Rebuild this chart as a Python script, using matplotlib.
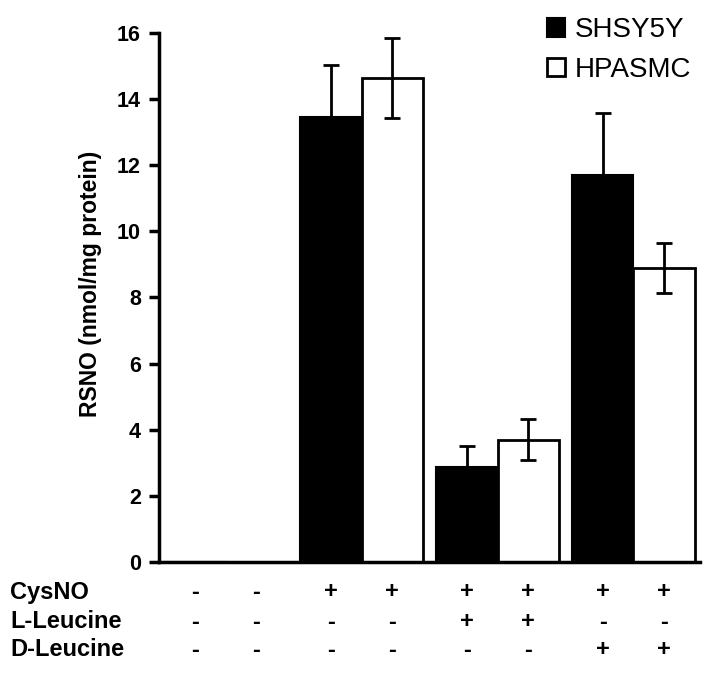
import matplotlib.pyplot as plt
import numpy as np

plt.rcParams['font.family'] = ['Liberation Sans', 'DejaVu Sans']

# Datos
series = ['SHSY5Y', 'HPASMC']
shsy5y = [0.0, 13.45, 2.88, 11.70]
shsy5y_err = [0.0, 1.57, 0.63, 1.88]
hpasmc = [0.0, 14.64, 3.70, 8.90]
hpasmc_err = [0.0, 1.22, 0.62, 0.76]

row_labels = ['CysNO', 'L-Leucine', 'D-Leucine']
signs = [
    ['-', '-', '+', '+', '+', '+', '+', '+'],
    ['-', '-', '-', '-', '+', '+', '-', '-'],
    ['-', '-', '-', '-', '-', '-', '+', '+'],
]

x = np.arange(len(shsy5y))
w = 0.45

fig = plt.figure(figsize=(7.1, 6.73), dpi=100)
ax = fig.add_axes([0.224, 0.165, 0.762, 0.786])

ax.bar(x - w / 2, shsy5y, w, color='black', edgecolor='black', linewidth=1.5,
       label=series[0])
ax.bar(x + w / 2, hpasmc, w, color='white', edgecolor='black', linewidth=2,
       label=series[1])
ax.errorbar(x[1:] - w / 2, shsy5y[1:], yerr=shsy5y_err[1:], fmt='none',
            ecolor='black', elinewidth=2, capsize=6, capthick=2)
ax.errorbar(x[1:] + w / 2, hpasmc[1:], yerr=hpasmc_err[1:], fmt='none',
            ecolor='black', elinewidth=2, capsize=6, capthick=2)

ax.set_xlim(-0.49, 3.49)
ax.set_ylim(0, 16)
ax.set_yticks(range(0, 17, 2))
ax.set_xticks([])
for s in ['top', 'right']:
    ax.spines[s].set_visible(False)
for s in ['left', 'bottom']:
    ax.spines[s].set_linewidth(2.5)
ax.tick_params(axis='y', direction='out', length=7, width=2.5, labelsize=15.5, pad=6)
for lab in ax.get_yticklabels():
    lab.set_fontweight('bold')
ax.set_ylabel('RSNO (nmol/mg protein)', fontsize=16.5, fontweight='bold')
ax.yaxis.set_label_coords(-0.105, 0.525)

leg = fig.legend(loc='upper left', bbox_to_anchor=(547 / 710, 1 - 17 / 673),
                 frameon=False, fontsize=20, handlelength=0.65, handleheight=0.65,
                 handletextpad=0.35, labelspacing=0.5, borderpad=0,
                 borderaxespad=0)

# Tabla de tratamientos debajo del eje
bar_pos = np.ravel(np.column_stack([x - w / 2, x + w / 2]))
row_y = [592, 622, 650]
for label, row, yp in zip(row_labels, signs, row_y):
    yf = 1 - yp / 673
    fig.text(10 / 710, yf, label, fontsize=17, fontweight='bold', va='center')
    for bx, s in zip(bar_pos, row):
        xf = fig.transFigure.inverted().transform(ax.transData.transform((bx, 0)))[0]
        fig.text(xf, yf, s, fontsize=17, fontweight='bold', ha='center', va='center')

fig.savefig('out.png', dpi=100)
